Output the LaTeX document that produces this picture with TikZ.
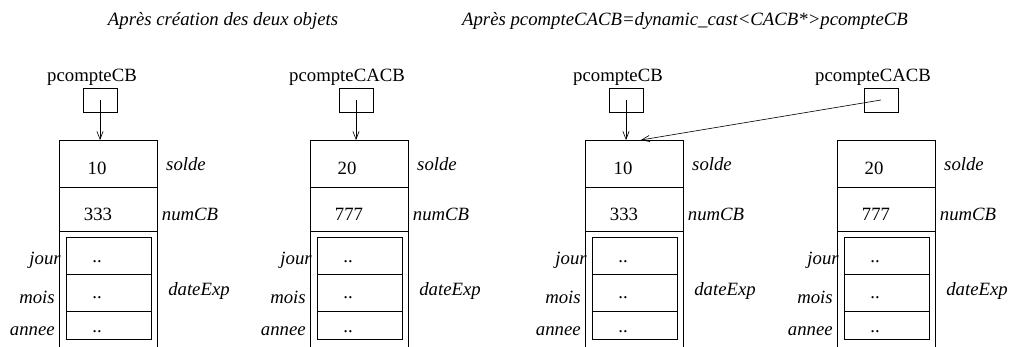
\documentclass[tikz,border=0pt]{standalone}
\usepackage{fontspec}
\setmainfont{Liberation Serif}
\usetikzlibrary{arrows.meta}

\begin{document}
\begin{tikzpicture}[x=0.64pt, y=-0.64pt,
  every node/.style={font=\fontsize{12}{14}\selectfont, inner sep=0pt},
  champ/.style={font=\fontsize{12}{14}\selectfont\itshape},
  ptr/.style={draw, minimum width=21.8pt, minimum height=15.4pt},
  fleche/.style={-{Straight Barb[length=5pt, width=4pt]}}]
\useasboundingbox (0,0) rectangle (1012,347);

\node [champ] (titre1) at (223,21) {Après création des deux objets};
\node [champ] (titre2) at (685,21) {Après pcompteCACB=dynamic\_cast<CACB*>pcompteCB};

\begin{scope}[shift={(59,0)}] % PREMIER OBJET
\draw (0,347) |- (98,140) -- (98,347);
\coordinate (haut1) at (49,140);
\draw (0,187) -- (98,187);
\draw (0,231) -- (98,231);
\draw (7,237) rectangle (92,339);
\draw (7,274) -- (93,274);
\draw (7,311) -- (93,311);

\node (val1) at (38,168) {10};
\node (num1) at (39,214) {333};
\node (d1a) at (38,262) {..};
\node (d1b) at (38,298) {..};
\node (d1c) at (38,332) {..};

\node [champ] (solde1) at (127,164) {solde};
\node [champ] (numcb1) at (131,214) {numCB};
\node [champ] (date1) at (140,291) {dateExp};
\node [champ, anchor=east] (jour1) at (2,260) {jour};
\node [champ, anchor=east] (mois1) at (-4,297) {mois};
\node [champ, anchor=east] (annee1) at (-4,331) {annee};

\node (nom1) at (33,77) {pcompteCB};
\node [ptr] (p1) at (41,100) {};
\draw [fleche] (p1.center) -- (p1.center |- haut1);
\end{scope}

\begin{scope}[shift={(310,0)}] % DEUXIEME OBJET
\draw (0,347) |- (98,140) -- (98,347);
\coordinate (haut2) at (49,140);
\draw (0,187) -- (98,187);
\draw (0,231) -- (98,231);
\draw (7,237) rectangle (92,339);
\draw (7,274) -- (93,274);
\draw (7,311) -- (93,311);

\node (val2) at (37,168) {20};
\node (num2) at (39,214) {777};
\node (d2a) at (38,262) {..};
\node (d2b) at (38,298) {..};
\node (d2c) at (38,332) {..};

\node [champ] (solde2) at (127,164) {solde};
\node [champ] (numcb2) at (131,214) {numCB};
\node [champ] (date2) at (140,291) {dateExp};
\node [champ, anchor=east] (jour2) at (2,260) {jour};
\node [champ, anchor=east] (mois2) at (-4,297) {mois};
\node [champ, anchor=east] (annee2) at (-4,331) {annee};

\node (nom2) at (37,77) {pcompteCACB};
\node [ptr] (p2) at (46,100) {};
\draw [fleche] (p2.center) -- (p2.center |- haut2);
\end{scope}

\begin{scope}[shift={(585,0)}] % TROISIEME OBJET
\draw (0,347) |- (98,140) -- (98,347);
\coordinate (haut3) at (49,140);
\draw (0,187) -- (98,187);
\draw (0,231) -- (98,231);
\draw (7,237) rectangle (92,339);
\draw (7,274) -- (93,274);
\draw (7,311) -- (93,311);

\node (val3) at (38,168) {10};
\node (num3) at (39,214) {333};
\node (d3a) at (38,262) {..};
\node (d3b) at (38,298) {..};
\node (d3c) at (38,332) {..};

\node [champ] (solde3) at (127,164) {solde};
\node [champ] (numcb3) at (131,214) {numCB};
\node [champ] (date3) at (140,291) {dateExp};
\node [champ, anchor=east] (jour3) at (2,260) {jour};
\node [champ, anchor=east] (mois3) at (-4,297) {mois};
\node [champ, anchor=east] (annee3) at (-4,331) {annee};

\node (nom3) at (33,77) {pcompteCB};
\node [ptr] (p3) at (41,100) {};
\draw [fleche] (p3.center) -- (p3.center |- haut3);
\end{scope}

\begin{scope}[shift={(837,0)}] % QUATRIEME OBJET
\draw (0,347) |- (98,140) -- (98,347);
\coordinate (haut4) at (49,140);
\draw (0,187) -- (98,187);
\draw (0,231) -- (98,231);
\draw (7,237) rectangle (92,339);
\draw (7,274) -- (93,274);
\draw (7,311) -- (93,311);

\node (val4) at (37,168) {20};
\node (num4) at (39,214) {777};
\node (d4a) at (38,262) {..};
\node (d4b) at (38,298) {..};
\node (d4c) at (38,332) {..};

\node [champ] (solde4) at (127,164) {solde};
\node [champ] (numcb4) at (131,214) {numCB};
\node [champ] (date4) at (140,291) {dateExp};
\node [champ, anchor=east] (jour4) at (2,260) {jour};
\node [champ, anchor=east] (mois4) at (-4,297) {mois};
\node [champ, anchor=east] (annee4) at (-4,331) {annee};

\node (nom4) at (36,77) {pcompteCACB};
\node [ptr] (p4) at (44,100) {};
\end{scope}

% pcompteCACB pointe sur le premier objet
\draw [fleche] (p4.center) -- ([xshift=4.5pt]haut3);
\end{tikzpicture}
\end{document}
